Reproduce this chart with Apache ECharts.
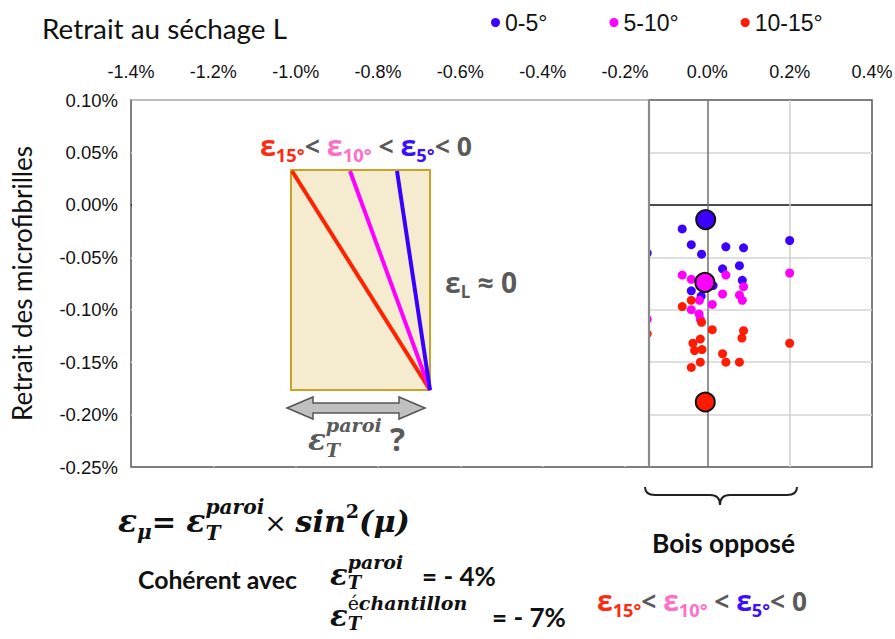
<!DOCTYPE html>
<html><head><meta charset="utf-8">
<script src="https://cdn.jsdelivr.net/npm/echarts@6/dist/echarts.min.js"></script>
<style>html,body{margin:0;padding:0;background:#fff}#c{width:895px;height:639px}</style>
</head><body><div id="c"></div>
<script>
// ---------- data (values in %) ----------
const seriesNames = ['0-5°', '5-10°', '10-15°'];
const xTickValues = [-1.4, -1.2, -1.0, -0.8, -0.6, -0.4, -0.2, 0.0, 0.2, 0.4];
const yTickValues = [-0.25, -0.20, -0.15, -0.10, -0.05, 0.00, 0.05, 0.10];
const pts0_5 = [[-0.061,-0.023],[-0.039,-0.038],[-0.014,-0.047],[0.045,-0.040],[0.088,-0.041],[0.200,-0.034],
  [0.037,-0.061],[0.078,-0.058],[0.085,-0.072],[-0.039,-0.082],[0.014,-0.077],[-0.015,-0.087],[-0.146,-0.046]];
const pts5_10 = [[-0.061,-0.067],[-0.039,-0.071],[0.045,-0.067],[0.088,-0.078],[0.037,-0.085],[0.078,-0.086],
  [0.085,-0.091],[0.200,-0.065],[0.012,-0.095],[-0.019,-0.091],[-0.039,-0.100],[-0.020,-0.104],[-0.017,-0.109],[-0.146,-0.109]];
const pts10_15 = [[-0.039,-0.091],[-0.061,-0.097],[-0.014,-0.112],[0.012,-0.119],[0.088,-0.120],[0.084,-0.127],
  [-0.017,-0.128],[-0.035,-0.132],[-0.031,-0.139],[-0.013,-0.138],[0.200,-0.132],[0.037,-0.142],[-0.017,-0.150],
  [0.045,-0.150],[0.078,-0.150],[-0.039,-0.155],[-0.146,-0.123]];
const meanPts = [[-0.004,-0.014],[-0.006,-0.074],[-0.005,-0.188]];
const COLORS = ['#3c00ff', '#ff00ff', '#ff1a00'];

// ---------- layout ----------
const GL = 131, GT = 100, GR = 23, GB = 172, W = 895, H = 639;
const SPLIT_PX = 649;

// ---------- text helper ----------
const SERIF = "'DejaVu Serif', 'Liberation Serif', serif";
const SANS = "'Open Sans', 'Noto Sans', 'DejaVu Sans', sans-serif";
const CAL = "Lato, 'Open Sans', sans-serif";
const mctx = document.createElement('canvas').getContext('2d');
function T(t, s, f, b, i, c, dy) { return {t, s, f, b, i, c, dy: dy || 0}; }
function fontStr(it, k) { return (it.i ? 'italic ' : '') + (it.b ? 'bold ' : '') + (it.s * k).toFixed(2) + 'px ' + it.f; }
function tw(it, k) { mctx.font = fontStr(it, k); return mctx.measureText(it.t).width; }
function seqW(a, k) { return a.reduce((s, it) => s + tw(it, k), 0); }
function itemW(it, k) { return it.toX ? 0 : it.stack ? Math.max(seqW(it.sup, k), seqW(it.sub, k)) : tw(it, k); }
function run(x, by, items, fitW) {
  let k = 1;
  if (fitW) { const tot = items.reduce((s, it) => s + itemW(it, 1), 0); k = fitW / tot; }
  const out = [];
  let cx = x;
  const put = (it, px) => {
    out.push({type: 'text', x: px, y: by + it.dy - 0.35 * it.s * k, z: 60, silent: true,
      style: {text: it.t, font: fontStr(it, k), fill: it.c, align: 'left', verticalAlign: 'middle'}});
    return tw(it, k);
  };
  items.forEach(it => {
    if (it.toX) { cx = Math.max(cx, it.toX); }
    else if (it.stack) {
      let a = cx; it.sup.forEach(s => { a += put(s, a); });
      let b = cx; it.sub.forEach(s => { b += put(s, b); });
      cx = Math.max(a, b);
    } else cx += put(it, cx);
  });
  return out;
}
const K = '#111', G = '#5a5a5a', R = '#ff2a10', P = '#ff6ec7', B = '#3a10ff';
function ineq() {
  return [T('ε',28,SANS,1,0,R), T('15°',18,SANS,1,0,R,6), T('< ',26,SANS,1,0,G),
          T('ε',28,SANS,1,0,P), T('10°',18,SANS,1,0,P,6), T(' < ',26,SANS,1,0,G),
          T('ε',28,SANS,1,0,B), T('5°',18,SANS,1,0,B,6), T('< 0',26,SANS,1,0,G)];
}
function epsT(sup, size, col, subDy, ss) {
  return [T('ε', size, SERIF, 1, 1, col),
          {stack: true, sup: sup, sub: [T('T', ss, SERIF, 1, 1, col, subDy)]}];
}

let texts = [];
texts = texts.concat(run(42, 38, [T('Retrait au séchage L', 24, CAL, 0, 0, K)], 245));
texts = texts.concat(run(260, 155, ineq(), 212));
texts = texts.concat(run(597, 610, ineq(), 210));
texts = texts.concat(run(445, 292, [T('ε',30,SANS,1,0,G), T('L',18,SANS,1,0,G,5), T(' ≈ 0',30,SANS,1,0,G)], 72));
texts = texts.concat(run(308, 450, epsT([T('paroi',17,SERIF,1,1,G,-18)], 26, G, 7, 17).concat([T(' ?',28,SANS,1,0,G)]), 97));
texts = texts.concat(run(118, 532, [T('ε',28,SERIF,1,1,K), T('μ',18,SERIF,1,1,K,7), T('= ',26,SERIF,1,0,K),
   T('ε',28,SERIF,1,1,K), {stack:true, sup:[T('paroi',18,SERIF,1,1,K,-18)], sub:[T('T',18,SERIF,1,1,K,8)]},
   T('× ',24,SERIF,0,0,K), T('sin',27,SERIF,1,1,K), T('2',17,SERIF,1,0,K,-14), T('(μ)',27,SERIF,1,1,K)], 292));
texts = texts.concat(run(138, 588, [T('Cohérent avec', 22, CAL, 1, 0, K)], 159));
texts = texts.concat(run(330, 585, epsT([T('paroi',19,SERIF,1,1,K,-16)], 29, K, 4, 18).concat([{toX: 422}, T('= - 4%',26,CAL,1,0,K)])));
texts = texts.concat(run(330, 626, epsT([T('é',19,SERIF,0,0,K,-16), T('chantillon',19,SERIF,1,1,K,-16)], 29, K, 4, 18).concat([{toX: 492}, T('= - 7%',26,CAL,1,0,K)])));
texts = texts.concat(run(652, 552, [T('Bois opposé', 24, CAL, 1, 0, K)], 143));

const braceStyle = {stroke: '#222', fill: 'none', lineWidth: 2};
const shapes = [
  // mask over the left part of the plot
  {type: 'rect', z: 50, silent: true, shape: {x: GL + 1, y: GT - 1, width: SPLIT_PX - GL - 2, height: H - GB - GT}, style: {fill: '#fff'}},
  {type: 'line', z: 51, silent: true, shape: {x1: GL, y1: GT, x2: SPLIT_PX, y2: GT}, style: {stroke: '#a8a8a8', lineWidth: 1.5}},
  {type: 'line', z: 51, silent: true, shape: {x1: SPLIT_PX, y1: GT, x2: SPLIT_PX, y2: H - GB}, style: {stroke: '#8a8a8a', lineWidth: 2.2}},
  // diagram
  {type: 'rect', z: 52, silent: true, shape: {x: 291, y: 170, width: 139, height: 220}, style: {fill: '#f5ecd0', stroke: '#c9a227', lineWidth: 2}},
  {type: 'line', z: 53, silent: true, shape: {x1: 292, y1: 171, x2: 430, y2: 390}, style: {stroke: '#ff2200', lineWidth: 4}},
  {type: 'line', z: 53, silent: true, shape: {x1: 350, y1: 171, x2: 430, y2: 390}, style: {stroke: '#ff00ff', lineWidth: 4}},
  {type: 'line', z: 53, silent: true, shape: {x1: 397, y1: 171, x2: 430, y2: 390}, style: {stroke: '#3a00ff', lineWidth: 4}},
  {type: 'polygon', z: 53, silent: true, shape: {points: [[287,408],[313,397],[313,403],[399,403],[399,397],[425,408],[399,419],[399,413],[313,413],[313,419]]},
    style: {fill: '#c0c0c0', stroke: '#555', lineWidth: 1.5}},
  // brace
  {type: 'bezierCurve', z: 53, silent: true, shape: {x1: 645, y1: 487, cpx1: 645, cpy1: 495, x2: 655, y2: 495}, style: braceStyle},
  {type: 'line', z: 53, silent: true, shape: {x1: 655, y1: 495, x2: 710, y2: 495}, style: braceStyle},
  {type: 'bezierCurve', z: 53, silent: true, shape: {x1: 710, y1: 495, cpx1: 720, cpy1: 495, x2: 720, y2: 505}, style: braceStyle},
  {type: 'bezierCurve', z: 53, silent: true, shape: {x1: 720, y1: 505, cpx1: 720, cpy1: 495, x2: 730, y2: 495}, style: braceStyle},
  {type: 'line', z: 53, silent: true, shape: {x1: 730, y1: 495, x2: 787, y2: 495}, style: braceStyle},
  {type: 'bezierCurve', z: 53, silent: true, shape: {x1: 787, y1: 495, cpx1: 797, cpy1: 495, x2: 797, y2: 487}, style: braceStyle}
];

const chart = echarts.init(document.getElementById('c'), null, {renderer: 'svg', width: W, height: H});
const isZero = v => Math.abs(v) < 1e-9;
// split-line colours (the min line is not drawn, so colours start at the 2nd tick)
const xSplitColors = xTickValues.slice(1).map(v => isZero(v) ? '#707070' : '#cfcfcf');
const ySplitColors = yTickValues.slice(1).map(v => isZero(v) ? '#111' : '#d4d4d4');
chart.setOption({
  animation: false,
  backgroundColor: '#fff',
  legend: {top: 6, left: 486, itemWidth: 9, itemHeight: 9, itemGap: 62, data: seriesNames,
    textStyle: {fontSize: 23, fontFamily: 'Liberation Sans', color: '#111'}},
  grid: {left: GL, top: GT, right: GR, bottom: GB, show: true, borderColor: '#555', borderWidth: 1.5, outerBoundsMode: 'none'},
  xAxis: {type: 'value', position: 'top', min: xTickValues[0], max: xTickValues[xTickValues.length - 1],
    interval: 0.2,
    axisLine: {show: false}, axisTick: {show: false},
    axisLabel: {margin: 19, fontSize: 18, fontFamily: 'Liberation Sans', color: '#111',
      formatter: v => (isZero(v) ? 0 : v).toFixed(1) + '%'},
    splitLine: {show: true, showMinLine: false, showMaxLine: false,
      lineStyle: {width: 1.5, color: xSplitColors}}},
  yAxis: {type: 'value', min: yTickValues[0], max: yTickValues[yTickValues.length - 1],
    interval: 0.05,
    axisLine: {show: false}, axisTick: {show: false},
    axisLabel: {margin: 13, fontSize: 18.5, fontFamily: 'Liberation Sans', color: '#111',
      formatter: v => (isZero(v) ? 0 : v).toFixed(2) + '%'},
    name: 'Retrait des microfibrilles', nameLocation: 'middle', nameRotate: 90, nameGap: 96,
    nameTextStyle: {fontSize: 26, fontFamily: 'Lato', color: '#111'},
    splitLine: {show: true, showMinLine: false, showMaxLine: false,
      lineStyle: {width: 1.5, color: ySplitColors}}},
  series: [
    {name: seriesNames[0], type: 'scatter', data: pts0_5, symbolSize: 9, clip: false, z: 3, itemStyle: {color: COLORS[0], opacity: 1}},
    {name: seriesNames[1], type: 'scatter', data: pts5_10, symbolSize: 9, clip: false, z: 3, itemStyle: {color: COLORS[1], opacity: 1}},
    {name: seriesNames[2], type: 'scatter', data: pts10_15, symbolSize: 9, clip: false, z: 3, itemStyle: {color: COLORS[2], opacity: 1}},
    {name: 'moyenne ' + seriesNames[0], type: 'scatter', data: [meanPts[0]], symbolSize: 19, z: 5, itemStyle: {color: COLORS[0], borderColor: '#111', borderWidth: 2, opacity: 1}},
    {name: 'moyenne ' + seriesNames[1], type: 'scatter', data: [meanPts[1]], symbolSize: 19, z: 5, itemStyle: {color: COLORS[1], borderColor: '#111', borderWidth: 2, opacity: 1}},
    {name: 'moyenne ' + seriesNames[2], type: 'scatter', data: [meanPts[2]], symbolSize: 19, z: 5, itemStyle: {color: COLORS[2], borderColor: '#111', borderWidth: 2, opacity: 1}}
  ],
  graphic: {elements: shapes.concat(texts)}
});
</script></body></html>
